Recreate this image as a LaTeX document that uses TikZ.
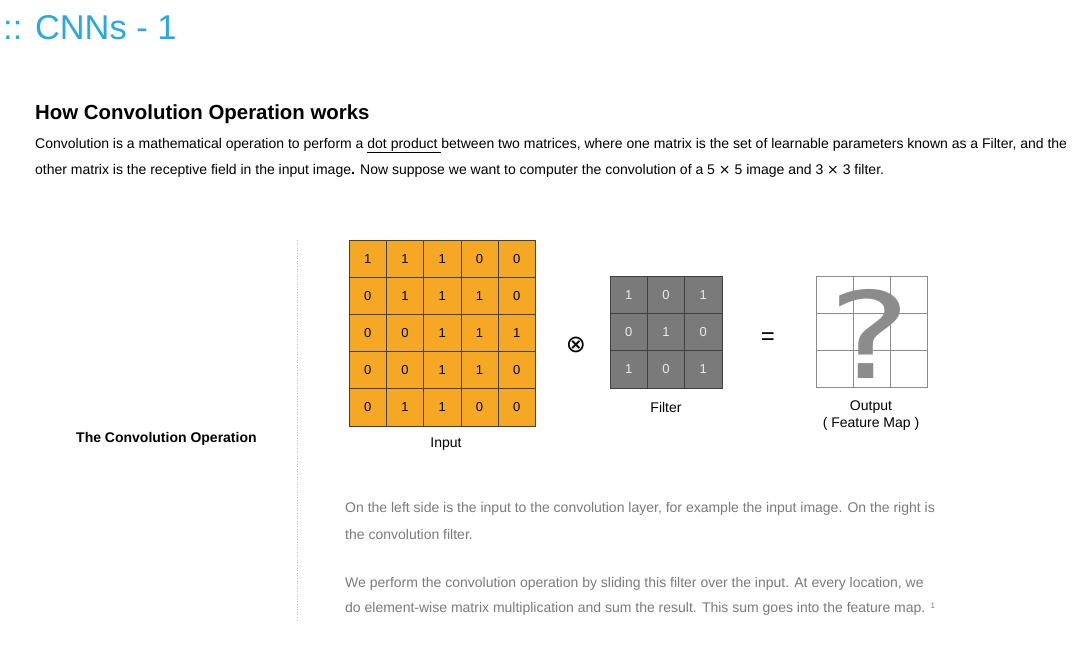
\documentclass[tikz,border=0pt]{standalone}
\usepackage{fontspec}
\setmainfont{Liberation Sans}
\newfontfamily\djv{DejaVu Sans}
\definecolor{titleblue}{HTML}{29A9E1}
\definecolor{orng}{HTML}{F5A823}
\definecolor{fgray}{HTML}{7A7A7A}
\definecolor{ptext}{HTML}{7B7B7B}
\definecolor{ogray}{HTML}{8C8C8C}
\tikzset{
  body/.style={anchor=west, inner sep=0pt, font=\fontsize{14}{16}\selectfont},
  gbody/.style={body, text=ptext},
  incell/.style={draw=black!75, line width=0.8pt, fill=orng, minimum size=37.3pt, inner sep=0pt, font=\fontsize{13}{14}\selectfont},
  fcell/.style={draw=black!75, line width=0.8pt, fill=fgray, text=white!92!black, minimum size=37.3pt, inner sep=0pt, font=\fontsize{13}{14}\selectfont},
  ocell/.style={draw=ogray, line width=0.8pt, minimum size=37.2pt, inner sep=0pt},
  lbl/.style={inner sep=0pt, font=\fontsize{14}{16}\selectfont},
}
\begin{document}
\begin{tikzpicture}[x=1pt,y=-1pt]
\useasboundingbox (0,0) rectangle (1080,645);
\fill[white] (0,0) rectangle (1080,645);

\node[anchor=west, inner sep=0pt, text=titleblue, font=\fontsize{34.4}{40}\selectfont] (title) at (3,28) {:: CNNs - 1};

\node[anchor=west, inner sep=0pt, font=\bfseries\fontsize{20.4}{22}\selectfont] (head) at (35,114) {How Convolution Operation works};

\node[body] (p1) at (35,145.5) {Convolution is a mathematical operation to perform a \underline{dot product\ }between two matrices, where one matrix is the set of learnable parameters known as a Filter, and the};
\node[body] (p2) at (35,170.5) {other matrix is the receptive field in the input image\textbf{.} Now suppose we want to computer the convolution of a 5 {\djv ×} 5 image and 3 {\djv ×} 3 filter.};

\coordinate (vtop) at (297,240);
\coordinate (vbot) at (297,622);
\draw[black!25, dotted, line width=0.6pt] (vtop) -- (vbot);

\node[anchor=west, inner sep=0pt, font=\bfseries\fontsize{14}{16}\selectfont] (side) at (76,439) {The Convolution Operation};

% input grid
\foreach \row [count=\r from 0] in {{1,1,1,0,0},{0,1,1,1,0},{0,0,1,1,1},{0,0,1,1,0},{0,1,1,0,0}} {
  \foreach \v [count=\c from 0] in \row {
    \node[incell] (in\r\c) at ({349+37.3*(\c+0.5)},{240+37.2*(\r+0.5)}) {\v};
  }
}
\node[lbl] (inlbl) at (446,444) {Input};

\node[inner sep=0pt, font=\djv\fontsize{24}{26}\selectfont] (otimes) at (576,345) {⊗};

% filter grid
\foreach \row [count=\r from 0] in {{1,0,1},{0,1,0},{1,0,1}} {
  \foreach \v [count=\c from 0] in \row {
    \node[fcell] (f\r\c) at ({610+37.3*(\c+0.5)},{276+37.3*(\r+0.5)}) {\v};
  }
}
\node[lbl] (flbl) at (666,407) {Filter};

\node[inner sep=0pt, font=\fontsize{24}{26}\selectfont] (eq) at (768,339) {=};

% output grid
\foreach \r in {0,1,2} {
  \foreach \c in {0,1,2} {
    \node[ocell] (o\r\c) at ({816+37.2*(\c+0.5)},{276+37.2*(\r+0.5)}) {};
  }
}
\node[inner sep=0pt, text=ogray, text height=88pt, text depth=0pt, anchor=south, font=\djv\fontsize{120}{120}\selectfont] (qm) at (870,379) {\scalebox{1.3}[1]{?}};
\node[lbl, align=center, font=\fontsize{14}{16.5}\selectfont] (olbl) at (871,415.5) {Output\\( Feature Map )};

\node[gbody] (g1) at (345,509) {On the left side is the input to the convolution layer, for example the input image. On the right is};
\node[gbody] (g2) at (345,534) {the convolution filter.};
\node[gbody] (g3) at (345,584) {We perform the convolution operation by sliding this filter over the input. At every location, we};
\node[gbody] (g4) at (345,609) {do element-wise matrix multiplication and sum the result. This sum goes into the feature map. {\fontsize{8}{9}\selectfont\raisebox{4pt}{1}}};
\end{tikzpicture}
\end{document}
